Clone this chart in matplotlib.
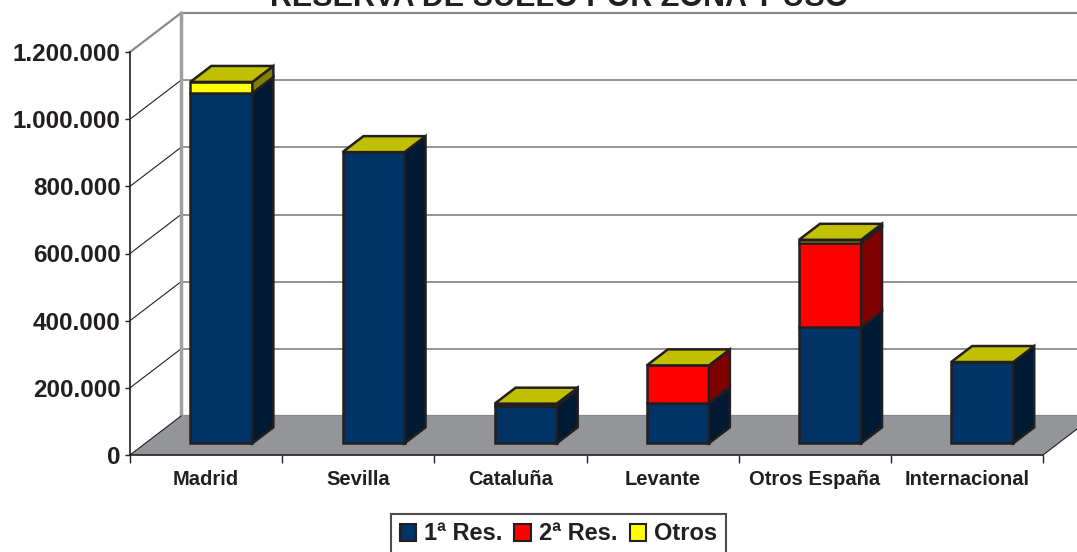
import matplotlib
matplotlib.use("Agg")
import matplotlib.pyplot as plt
from matplotlib.patches import Polygon, Patch
from matplotlib.ticker import FuncFormatter

plt.rcParams['font.family'] = ['Liberation Sans', 'DejaVu Sans']
plt.rcParams['font.weight'] = 'bold'
plt.rcParams['text.color'] = '#231f20'

# data
zonas = ['Madrid', 'Sevilla', 'Cataluña', 'Levante', 'Otros España', 'Internacional']
res1 = [1043000, 867000, 112000, 120000, 346000, 242000]
res2 = [0, 0, 0, 112000, 251000, 0]
otros = [33000, 0, 6000, 0, 9000, 0]
series_names = ['1ª Res.', '2ª Res.', 'Otros']

title = 'RESERVA DE SUELO POR ZONA Y USO'
ymax = 1200000
yticks = [0, 200000, 400000, 600000, 800000, 1000000, 1200000]

# colours: front, side
front_cols = ['#003366', '#ff0000', '#ffff00']
side_cols = ['#001a33', '#800000', '#808000']
top_col = '#c0c000'
edge = '#231f20'
grid_col = '#8a8a8a'
floor_col = '#949598'

W, H = 1077, 552
fig = plt.figure(figsize=(W / 100, H / 100), dpi=100)
ax = fig.add_axes([130 / W, 1 - 455 / H, (1043 - 130) / W, (455 - 52) / H])
ax.set_xlim(0, len(zonas))
ax.set_ylim(0, ymax)

# oblique depth offset in data units (full depth of the floor)
DX = 51 / 152.0
DY = 39 * ymax / 403.0


def proj(x, v, d):
    return (x + d * DX, v + d * DY)


def poly(pts, fc, ec, lw, z):
    ax.add_patch(Polygon([proj(*p) for p in pts], closed=True, facecolor=fc,
                         edgecolor=ec, lw=lw, zorder=z, clip_on=False,
                         joinstyle='miter'))


def seg(p, q, color, lw, z):
    a, b = proj(*p), proj(*q)
    ax.plot([a[0], b[0]], [a[1], b[1]], color=color, lw=lw, zorder=z, clip_on=False)


n = len(zonas)
# walls and floor
poly([(0, 0, 1), (n, 0, 1), (n, ymax, 1), (0, ymax, 1)], 'white', grid_col, 1.6, 0)
poly([(0, 0, 0), (0, 0, 1), (0, ymax, 1), (0, ymax, 0)], 'white', 'none', 0, 0)
for v in yticks[1:-1]:
    seg((0, v, 1), (n, v, 1), grid_col, 1.3, 1)
    seg((0, v, 0), (0, v, 1), edge, 0.8, 1)
seg((0, ymax, 0), (0, ymax, 1), grid_col, 1.6, 1)
seg((0, 0, 1), (0, ymax, 1), '#a0a0a0', 2.5, 1)
poly([(0, 0, 0), (n, 0, 0), (n, 0, 1), (0, 0, 1)], floor_col, 'none', 0, 2)
seg((0, 0, 0), (0, 0, 1), edge, 0.8, 3)
seg((n, 0, 0), (n, 0, 1), edge, 0.8, 3)

# stacked 3d bars
half = 0.204
d0, d1 = 0.30, 0.71
for i in range(n):
    x0, x1 = i + 0.5 - half, i + 0.5 + half
    base = 0
    for k, vals in enumerate([res1, res2, otros]):
        h = vals[i]
        if h <= 0:
            continue
        top = base + h
        poly([(x0, base, d0), (x1, base, d0), (x1, top, d0), (x0, top, d0)],
             front_cols[k], edge, 1.8, 5)
        poly([(x1, base, d0), (x1, base, d1), (x1, top, d1), (x1, top, d0)],
             side_cols[k], edge, 1.8, 5)
        base = top
    poly([(x0, base, d0), (x1, base, d0), (x1, base, d1), (x0, base, d1)],
         top_col, edge, 1.8, 6)

# axes styling
for s in ['top', 'right']:
    ax.spines[s].set_visible(False)
for s in ['left', 'bottom']:
    ax.spines[s].set_color(edge)
    ax.spines[s].set_linewidth(1.2)
    ax.spines[s].set_zorder(4)
ax.set_facecolor('none')
ax.set_yticks(yticks)
ax.yaxis.set_major_formatter(FuncFormatter(lambda v, p: f"{int(v):,}".replace(',', '.')))
ax.tick_params(axis='y', length=3.6, width=1, color=edge, pad=3.2, labelsize=17.5,
               labelcolor=edge)
ax.set_xticks(range(n + 1))
ax.set_xticklabels([])
ax.set_xticks([i + 0.5 for i in range(n)], minor=True)
ax.set_xticklabels(zonas, minor=True)
ax.tick_params(axis='x', which='major', length=6, width=1, color=edge)
ax.tick_params(axis='x', which='minor', length=0, pad=11, labelsize=14.5, labelcolor=edge)

fig.text(559 / W, 1 - 6 / H, title, ha='center', va='baseline', fontsize=22,
         fontweight='bold')

handles = [Patch(facecolor=c, edgecolor=edge, lw=1.5) for c in front_cols]
leg = fig.legend(handles, series_names, loc='center',
                 bbox_to_anchor=(558.5 / W, 1 - 534 / H), ncol=3, fontsize=17,
                 frameon=True, fancybox=False, edgecolor=edge, handlelength=0.7,
                 handleheight=0.7, handletextpad=0.35, columnspacing=0.5,
                 borderpad=0.35, borderaxespad=0)
leg.get_frame().set_linewidth(1.5)

fig.savefig('out.png', dpi=100, facecolor='white')
